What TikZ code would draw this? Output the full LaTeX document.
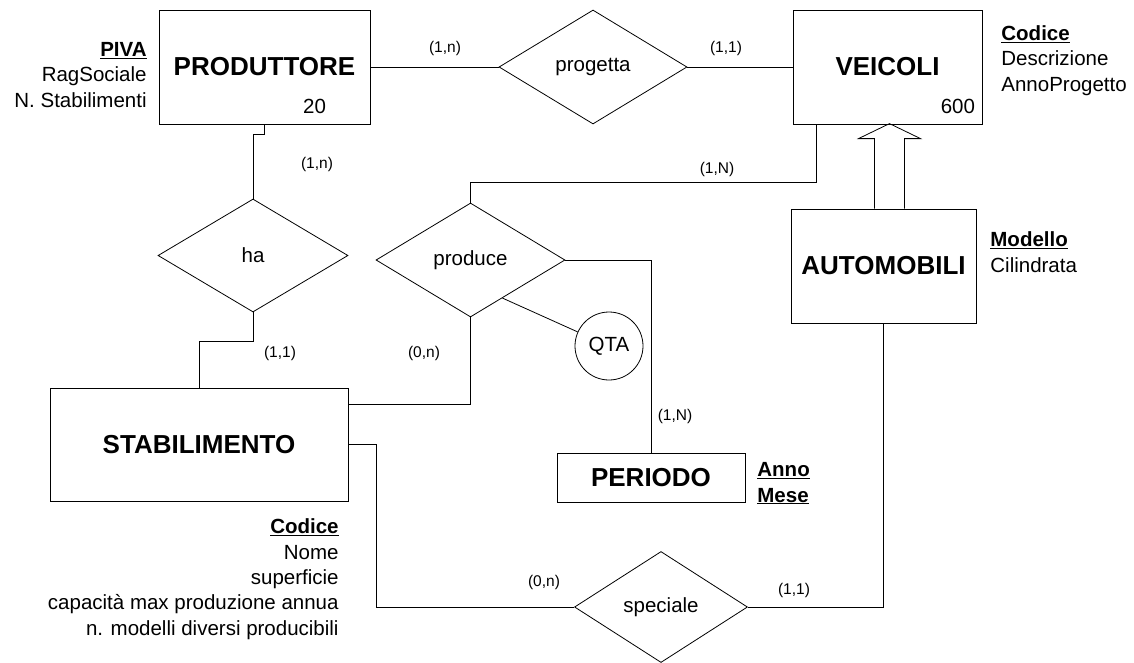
\documentclass[tikz,border=0pt]{standalone}
\usepackage{fontspec}
\setmainfont{Liberation Sans}
\usetikzlibrary{shapes.geometric, positioning}

\begin{document}
\begin{tikzpicture}[x=1pt, y=-1pt, line width=0.8pt] % 1 unit = 1 pixel
        % Define block styles
        \tikzstyle{entity} = [rectangle, draw, inner sep=0pt, font=\fontsize{26}{31}\selectfont\bfseries]
        \tikzstyle{relation} = [diamond, draw, inner sep=0pt, font=\fontsize{20.5}{25}\selectfont]
        \tikzstyle{attrib} = [inner sep=0pt, font=\fontsize{20.5}{25.3}\selectfont]
        \tikzstyle{card} = [inner sep=0pt, font=\fontsize{15.5}{18}\selectfont]

        \useasboundingbox (0,0) rectangle (1134,662);

        % Entities
        \node (produttore) [entity, minimum width=211pt, minimum height=114pt] at (264.5,67) {PRODUTTORE};
        \node (veicoli) [entity, minimum width=189pt, minimum height=114pt] at (887.5,67) {VEICOLI};
        \node (automobili) [entity, minimum width=185pt, minimum height=114pt] at (883.5,266) {AUTOMOBILI};
        \node (stabilimento) [entity, minimum width=298pt, minimum height=113pt] at (199,444.5) {STABILIMENTO};
        \node (periodo) [entity, minimum width=188pt, minimum height=49pt] at (651,477.5) {PERIODO};

        % Relationships
        \node (progetta) [relation, minimum width=188pt, minimum height=114pt] at (593,67) {progetta};
        \node (ha) [relation, minimum width=190pt, minimum height=113pt] at (253,255.5) {ha};
        \node (produce) [relation, minimum width=189pt, minimum height=114pt] at (470.5,260) {produce};
        \node (speciale) [relation, minimum width=173pt, minimum height=111pt] at (661,607) {speciale};
        \node (qta) [circle, draw, minimum size=68pt, inner sep=0pt, font=\fontsize{20.5}{25}\selectfont] at (609,346) {QTA};

        % Volumes
        \node (nprod) [attrib, above left=10pt and 44pt of produttore.south east] {20};
        \node (nveic) [attrib, above left=10pt and 7pt of veicoli.south east] {600};

        % Attributes (base = last line)
        \node (attprod) [attrib, align=right, anchor=base east] at (147,107) {\underline{\textbf{PIVA}}\\RagSociale\\N. Stabilimenti};
        \node (attveic) [attrib, align=left, anchor=base west] at (1001,91) {\underline{\textbf{Codice}}\\Descrizione\\AnnoProgetto};
        \node (attauto) [attrib, align=left, anchor=base west] at (990,272) {\underline{\textbf{Modello}}\\Cilindrata};
        \node (attstab) [attrib, align=right, anchor=base east] at (339,635) {\underline{\textbf{Codice}}\\Nome\\superficie\\capacità max produzione annua\\n. modelli diversi producibili};
        \node (attper) [attrib, align=left, anchor=base west] at (757,502) {\underline{\textbf{Anno}}\\\underline{\textbf{Mese}}};

        % Cardinalities
        \node (cprogprod) [card] at (445,48) {(1,n)};
        \node (cprogveic) [card] at (726,48) {(1,1)};
        \node (cprodveic) [card] at (717,169) {(1,N)};
        \node (chaprod) [card] at (317,164) {(1,n)};
        \node (chastab) [card] at (280,353) {(1,1)};
        \node (cprodstab) [card] at (424,353) {(0,n)};
        \node (cprodper) [card] at (675,416) {(1,N)};
        \node (cspecstab) [card] at (544,582) {(0,n)};
        \node (cspecauto) [card] at (794,590) {(1,1)};

        % Lines
        \draw (produttore) -- (progetta);
        \draw (progetta) -- (veicoli);
        \draw (produttore.south) -- ++(0,10) -| (ha.north);
        \draw (ha.south) -- ++(0,29) -| (stabilimento.north);
        \draw ([xshift=24pt]veicoli.south west) -- ++(0,58) -| (produce.north);
        \draw (produce.east) -| (periodo.north);
        \draw (produce.south) |- ([yshift=40.5pt]stabilimento.east);
        \draw (produce.-50) -- (qta);
        \draw (stabilimento.east) -- ++(28,0) |- (speciale.west);
        \draw (speciale.east) -| (automobili.south);

        % Generalization
        \draw (automobili.north) ++(-9,0) -- ++(0,-70) -- ++(-16,0) -- ++(31,-15) -- ++(31,15) -- ++(-16,0) -- ++(0,70);
    \end{tikzpicture}
\end{document}
